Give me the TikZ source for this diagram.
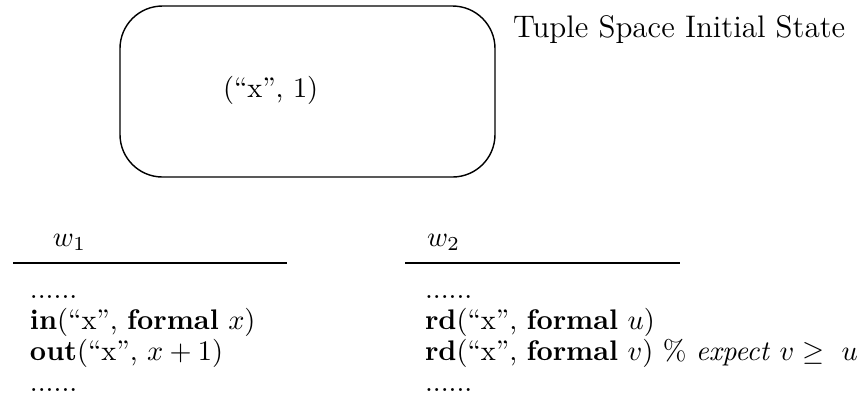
\documentclass[tikz,border=0pt]{standalone}
\usepackage{amssymb, amsmath}
\usepackage{tikz}
\usetikzlibrary{positioning}

\tikzset{
  txt/.style={anchor=base west, inner sep=0pt, outer sep=0pt},
  rule/.style={line width=0.7pt},
  space/.style={line width=0.5pt, rounded corners=15pt}
}

\begin{document}
\begin{tikzpicture}[x=0.353pt, y=-0.353pt]
  \useasboundingbox (0, 0) rectangle (863, 409);

  \draw[space] (120, 6) rectangle (495, 177);
  \node[txt] (tuple) at (223, 97) {(``x'', 1)};
  \node[txt, font=\fontsize{11}{13}\selectfont] (title) at (513, 37) {Tuple Space Initial State};

  \foreach \w/\lx/\rx/\hx in {1/13/287/53, 2/405/680/427} {
    \node[txt] (w\w) at (\hx, 246) {$w_{\w}$};
    \coordinate (rule\w a) at (\lx, 263);
    \coordinate (rule\w b) at (\rx, 263);
    \draw[rule] (rule\w a) -- (rule\w b);
  }

  \foreach \n/\y/\s in {1/298/{......}, 2/329/{\textbf{in}(``x'', \textbf{formal} $x$)},
                        3/360/{\textbf{out}(``x'', $x+1$)}, 4/391/{......}} {
    \node[txt] (left\n) at (30, \y) {\s};
  }

  \foreach \n/\y/\s in {1/298/{......}, 2/329/{\textbf{rd}(``x'', \textbf{formal} $u$)},
                        3/360/{\textbf{rd}(``x'', \textbf{formal} $v$) \% \textit{expect} $v \geq\ u$},
                        4/391/{......}} {
    \node[txt] (right\n) at (425, \y) {\s};
  }

\end{tikzpicture}
\end{document}
